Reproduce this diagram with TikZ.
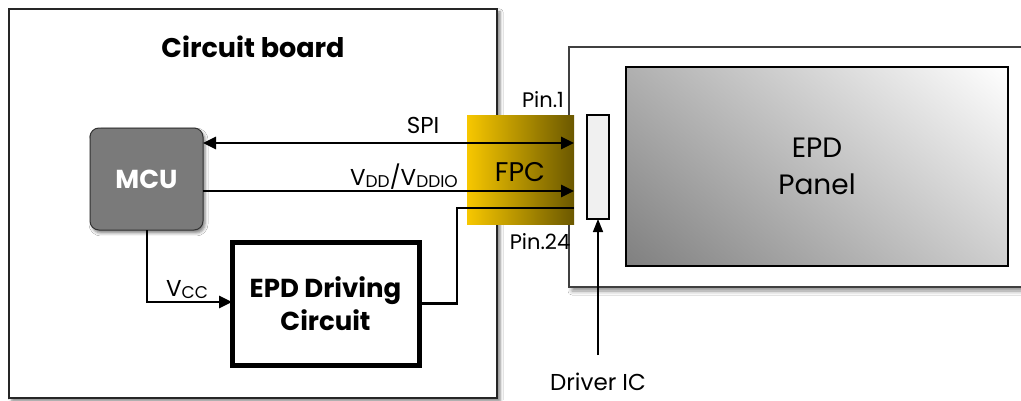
\documentclass[tikz,border=0pt]{standalone}
\usepackage{fontspec}
\setmainfont{Poppins}
\usetikzlibrary{arrows.meta,shadows.blur,calc}
\definecolor{fpcY}{HTML}{F7C700}
\definecolor{fpcM}{HTML}{C9A100}
\definecolor{fpcD}{HTML}{6B5800}
\definecolor{mcuG}{HTML}{7A7A7A}
\pgfdeclarefunctionalshading{panelsh}{\pgfpoint{0bp}{0bp}}{\pgfpoint{100bp}{100bp}}{}{
  25 sub 50 div 0.19 mul exch 25 sub 50 div 0.31 mul add 0.5 add
  dup 1 gt {pop 1} if dup 0 lt {pop 0} if dup dup}
\newcommand{\fs}[1]{\fontsize{#1}{#1}\selectfont}
\newcommand{\sbs}[1]{\raisebox{-0.12em}{\fontsize{17}{17}\selectfont #1}}
\tikzset{
  box/.style={draw, rectangle, inner sep=0pt, outer sep=0pt},
  sig/.style={line width=2.6pt, -{Triangle[length=13pt,width=12pt]}},
  lbl/.style={inner sep=0pt, font=\fs{23}},
}
\begin{document}
\begin{tikzpicture}[x=1pt,y=1pt]
\clip (0,0) rectangle (1021,400);
\useasboundingbox (0,0) rectangle (1021,400);
\fill[white] (0,0) rectangle (1021,400);
% circuit board
\node[box, line width=1.8pt, draw=black!85, fill=white, minimum width=488pt, minimum height=389pt,
  blur shadow={shadow xshift=3pt, shadow yshift=-3pt, shadow blur radius=3pt, shadow opacity=50}] (board) at (253,196.5) {};
\node[inner sep=0pt, font=\fs{27}\bfseries] (title) at (253,353) {Circuit board};
% panel
\node[box, line width=1.2pt, draw=black!75, fill=white, minimum width=466pt, minimum height=240pt,
  blur shadow={shadow xshift=3pt, shadow yshift=-4pt, shadow blur radius=4pt, shadow opacity=45}] (panelout) at (802,233) {};
\node[box, line width=2pt, draw=black, minimum width=382pt, minimum height=199pt,
  shading=panelsh, font=\fs{28}, align=center] (panel) at (817,233.5) {EPD\\[9pt]Panel};
\node[box, line width=1.2pt, draw=black, fill=black!6, minimum width=22pt, minimum height=104pt] (ic) at (598,233) {};
% FPC
\node[box, draw=none, minimum width=107pt, minimum height=109pt,
  left color=fpcY, middle color=fpcM, right color=fpcD] (fpc) at (520.5,230.5) {};
\node[inner sep=0pt, font=\fs{27}] (fpclbl) at (520,228) {FPC};
\node[lbl, font=\fs{21}] (pin1) at (543,300) {Pin.1};
\node[lbl, font=\fs{21}] (pin24) at (540,158) {Pin.24};
% MCU
\node[box, rounded corners=9pt, fill=mcuG, draw=black!80, line width=1pt, minimum width=113pt, minimum height=102pt,
  text=white, font=\fs{26}\bfseries,
  blur shadow={shadow xshift=2pt, shadow yshift=-3pt, shadow blur radius=3pt, shadow opacity=50}] (mcu) at (146.5,221) {MCU};
% EPD driving circuit
\node[box, line width=5pt, fill=white, minimum width=187pt, minimum height=123pt, align=center,
  font=\fs{26}\bfseries] (drv) at (325.5,96.5) {EPD Driving\\[4pt]Circuit};
% signals
\draw[sig, {Triangle[length=13pt,width=12pt]}-{Triangle[length=13pt,width=12pt]}]
  ([yshift=36pt]mcu.east) -- ([yshift=26.5pt]fpc.east);
\node[lbl] (spi) at (423,275) {SPI};
\draw[sig] ([yshift=-12pt]mcu.east) -- ([yshift=-21.5pt]fpc.east);
\node[lbl, anchor=base] (vdd) at (404,215) {V\sbs{DD}/V\sbs{DDIO}};
\coordinate (bend) at (457,192);
\draw[line width=2.6pt] (drv.east) -| (bend) -- (fpc.east |- bend);
\draw[sig] ([xshift=0.5pt]mcu.south) |- ([yshift=1.5pt]drv.west);
\node[lbl, anchor=base west] (vcc) at (166,104) {V\sbs{CC}};
% driver IC
\node[lbl] (iclbl) at (598,18) {Driver IC};
\coordinate (icfoot) at (598,45);
\draw[line width=1.5pt, -{Triangle[length=13pt,width=10pt]}] (icfoot) -- (ic.south);
\end{tikzpicture}
\end{document}
